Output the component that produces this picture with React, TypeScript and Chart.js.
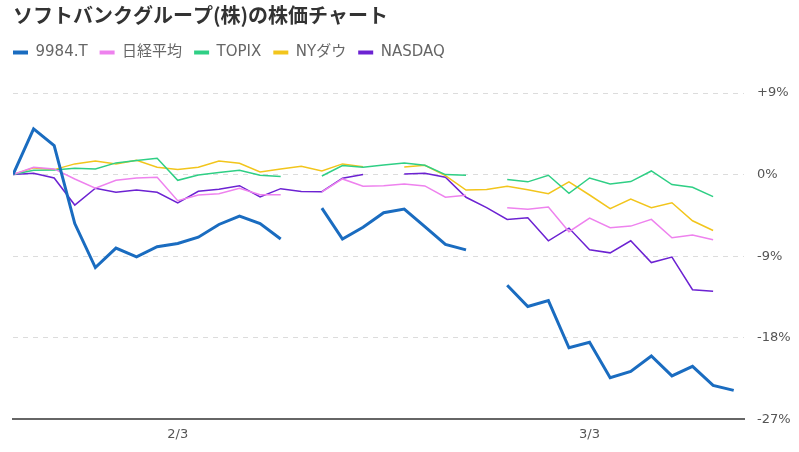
import { useEffect, useRef } from "react";
import { Chart, registerables } from "chart.js";

Chart.register(...registerables);

// trading days (2025), x positions are the index into this list
const dates = [
  "1/22", "1/23", "1/24", "1/27", "1/28", "1/29", "1/30", "1/31",
  "2/3", "2/4", "2/5", "2/6", "2/7", "2/10", "2/11", "2/12", "2/13", "2/14",
  "2/17", "2/18", "2/19", "2/20", "2/21", "2/24", "2/25", "2/26", "2/27", "2/28",
  "3/3", "3/4", "3/5", "3/6", "3/7", "3/10", "3/11", "3/12",
];
const xTickLabels = ["2/3", "3/3"];
const yTickValues = [-27, -18, -9, 0, 9];

// % change from first day
const softbank = [
  0, 5.05, 3.2, -5.4, -10.25, -8.1, -9.07, -7.96, -7.6, -6.9, -5.5, -4.57, -5.4, -7.1,
  null, -3.7, -7.1, -5.8, -4.2, -3.8, -5.75, -7.7, -8.3,
  null, -12.2, -14.55, -13.9, -19.1, -18.5, -22.4, -21.7, -20.0, -22.2, -21.15, -23.25, -23.8,
];
const nikkei = [
  0, 0.81, 0.63, -0.48, -1.51, -0.63, -0.37, -0.29, -2.88, -2.25, -2.1, -1.51, -2.21, -2.21,
  null, -1.9, -0.48, -1.29, -1.22, -1.03, -1.25, -2.5, -2.28,
  null, -3.65, -3.83, -3.58, -6.3, -4.8, -5.86, -5.68, -4.94, -6.97, -6.67, -7.19, null,
];
const topix = [
  0, 0.48, 0.51, 0.7, 0.63, 1.29, 1.55, 1.8, -0.63, -0.04, 0.22, 0.48, -0.07, -0.22,
  null, -0.15, 1.0, 0.81, 1.07, 1.29, 1.03, 0, -0.07,
  null, -0.55, -0.8, -0.07, -2.07, -0.37, -1.03, -0.77, 0.4, -1.1, -1.4, -2.43, null,
];
const dow = [
  0, 0.74, 0.55, 1.18, 1.51, 1.18, 1.58, 0.81, 0.55, 0.81, 1.51, 1.25, 0.29, 0.63,
  0.92, 0.41, 1.18, 0.88, null, 0.85, 1.03, -0.11, -1.7,
  -1.65, -1.29, -1.66, -2.1, -0.81, -2.25, -3.76, -2.69, -3.65, -3.1, -5.09, -6.16, null,
];
const nasdaq = [
  0, 0.15, -0.37, -3.36, -1.51, -1.95, -1.7, -1.95, -3.13, -1.84, -1.62, -1.22, -2.47, -1.55,
  -1.86, -1.88, -0.4, 0, null, 0.07, 0.15, -0.29, -2.5,
  -3.65, -4.94, -4.76, -7.3, -5.9, -8.3, -8.63, -7.3, -9.7, -9.1, -12.7, -12.87, null,
];

const TITLE_FONT = "'Noto Sans CJK JP', sans-serif";
const FONT = "'DejaVu Sans', 'Noto Sans CJK JP', sans-serif";

const series = [
  { label: "9984.T", values: softbank, color: "#1a6cc0", width: 3 },
  { label: "日経平均", values: nikkei, color: "#ee82ee", width: 1.5 },
  { label: "TOPIX", values: topix, color: "#2fcf85", width: 1.5 },
  { label: "NYダウ", values: dow, color: "#f2c51c", width: 1.5 },
  { label: "NASDAQ", values: nasdaq, color: "#6c22d2", width: 1.5 },
];

// pushes the legend flush left and leaves room under it
const legendLayout = {
  id: "legendLayout",
  beforeInit(chart: any) {
    const legend = chart.legend;
    const fit = legend.fit;
    legend.fit = function () {
      fit.bind(legend)();
      this.height += 23;
    };
  },
  afterLayout(chart: any) {
    chart.legend.left = 1;
  },
};

function StockChart() {
  const canvasRef = useRef<HTMLCanvasElement>(null);
  const chartRef = useRef<any>(null);

  useEffect(() => {
    if (!canvasRef.current) return;
    chartRef.current?.destroy();

    chartRef.current = new Chart(canvasRef.current, {
      type: "line",
      data: {
        datasets: series.map((s) => ({
          label: s.label,
          data: s.values.map((y, i) => ({ x: i, y })),
          borderColor: s.color,
          backgroundColor: s.color,
          borderWidth: s.width,
          pointRadius: 0,
          tension: 0,
          spanGaps: false,
        })),
      },
      options: {
        responsive: true,
        maintainAspectRatio: false,
        animation: false,
        layout: { padding: { left: 13, right: 9, top: 0, bottom: 3 } },
        plugins: {
          title: {
            display: true,
            text: "ソフトバンクグループ(株)の株価チャート",
            align: "start",
            color: "#333",
            font: { family: TITLE_FONT, size: 20, weight: "bold" },
            padding: { top: 3, bottom: 6 },
          },
          legend: {
            align: "start",
            labels: {
              color: "#666",
              font: { family: FONT, size: 15 },
              boxWidth: 15,
              boxHeight: 4,
              padding: 12,
              generateLabels: (chart: any) =>
                Chart.defaults.plugins.legend.labels
                  .generateLabels(chart)
                  .map((l: any) => ({ ...l, lineWidth: 0, strokeStyle: "rgba(0,0,0,0)" })),
            },
          },
          tooltip: { enabled: false },
        },
        scales: {
          x: {
            type: "linear",
            min: 0,
            max: dates.length - 0.5,
            afterBuildTicks: (axis: any) => {
              axis.ticks = xTickLabels.map((t) => ({ value: dates.indexOf(t) }));
            },
            ticks: {
              autoSkip: false,
              maxRotation: 0,
              color: "#555",
              padding: 7,
              font: { family: FONT, size: 13 },
              callback: (v: any) => dates[v],
            },
            grid: { display: false, drawTicks: false },
            border: { display: true, color: "#666", width: 2 },
          },
          y: {
            position: "right",
            min: -27,
            max: 9,
            afterBuildTicks: (axis: any) => {
              axis.ticks = yTickValues.map((v) => ({ value: v }));
            },
            afterFit: (axis: any) => {
              axis.width = 46;
            },
            ticks: {
              color: "#555",
              padding: 13,
              font: { family: FONT, size: 13 },
              callback: (v: any) => (v > 0 ? `+${v}%` : `${v}%`),
            },
            grid: { color: "#dcdcdc", drawTicks: false },
            border: { display: false, dash: [5, 5] },
          },
        },
      },
      plugins: [legendLayout],
    } as any);

    return () => {
      chartRef.current?.destroy();
      chartRef.current = null;
    };
  }, []);

  return (
    <div style={{ position: "absolute", left: 0, top: 0, width: 799, height: 452, background: "#fff" }}>
      <canvas ref={canvasRef} />
    </div>
  );
}

export default function App() {
  return <StockChart />;
}
